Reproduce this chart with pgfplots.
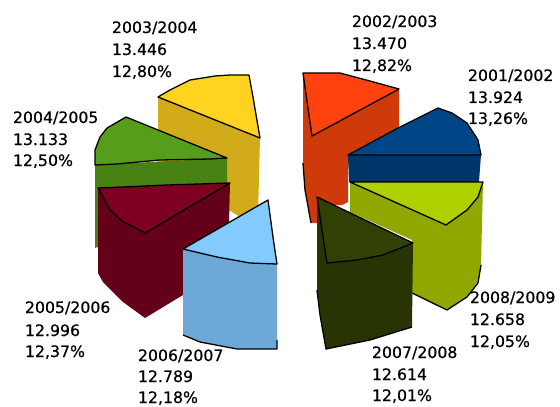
\documentclass[border=0pt]{standalone}
\usepackage{fontspec}
\setmainfont{DejaVu Sans}[FakeBold=0.5]
\usepackage{pgfplots}
\pgfplotsset{compat=1.18}
\definecolor{orT}{HTML}{FF420E}\definecolor{orS}{HTML}{CF3A0B}
\definecolor{yeT}{HTML}{FFD320}\definecolor{yeS}{HTML}{D2AB1A}
\definecolor{grT}{HTML}{579D1C}\definecolor{grS}{HTML}{488215}
\definecolor{blT}{HTML}{004586}\definecolor{blS}{HTML}{003569}
\definecolor{liT}{HTML}{AECF00}\definecolor{liS}{HTML}{90A700}
\definecolor{maT}{HTML}{7E0021}\definecolor{maS}{HTML}{65001A}
\definecolor{lbT}{HTML}{83CAFF}\definecolor{lbS}{HTML}{6EA8D7}
\definecolor{daT}{HTML}{314004}\definecolor{daS}{HTML}{283403}
\tikzset{lb/.style={anchor=base west,inner sep=0pt,outer sep=0pt,font=\fontsize{15.8}{18}\selectfont}}
\pgfplotsset{edge/.style={black,line width=1.3pt,line join=round},top/.style={draw=black,line width=1.3pt,line join=round}}
\begin{document}
\begin{tikzpicture}[x=1bp,y=1bp]
\path[use as bounding box] (0,0) rectangle (560bp,407bp);
\begin{axis}[at={(0,0)},anchor=south west,scale only axis,width=560bp,height=407bp,
  xmin=0,xmax=560,ymin=0,ymax=407,y dir=reverse,hide axis,no markers]
% orange
\addplot[fill=orS,draw=none] coordinates {(303,73)(399,89)(399,135)(348,165)(348,202)(342,205)(318,205)(318,223)(311,223)(305,190)(303,163)} --cycle;
\addplot[edge] coordinates {(303,163)(305,190)(311,223)};
\addplot[fill=orT,top] coordinates {(303,73)(340,73)(370,81)(399,89)(312,136)} --cycle;
% yellow
\addplot[fill=yeS,draw=none] coordinates {(158,97)(260,138)(258,217)(240,217)(229,210)(158,190)} --cycle;
\addplot[fill=yeT,top] coordinates {(158,97)(170,90)(190,80)(215,76)(230,75)(249,75)(253,97)(260,138)} --cycle;
% green
\addplot[fill=grS,draw=none] coordinates {(95,165)(227,158)(227,200)(95,248)} --cycle;
\addplot[fill=grT,top] coordinates {(95,165)(95,150)(100,137)(107,128)(126,117)(227,158)(210,159)(160,160)(117,164)} --cycle;
% blue
\addplot[fill=blS,draw=none] coordinates {(348,155)(481,155)(479,182)(349,182)} --cycle;
\addplot[fill=blT,top] coordinates {(348,155)(398,128)(438,108)(452,113)(467,123)(478,140)(481,155)} --cycle;
% lime
\addplot[fill=liS,draw=none] coordinates {(350,182)(483,182)(481,265)(478,283)(467,297)(447,310)(412,293)(412,240)(350,212)} --cycle;
\addplot[edge] coordinates {(481,265)(478,283)(467,297)(447,310)(412,293)};
\addplot[fill=liT,top] coordinates {(350,182)(483,182)(478,197)(467,210)(446,225)} --cycle;
% maroon
\addplot[fill=maS,draw=none] coordinates {(98,188)(230,183)(229,223)(183,295)(145,318)(123,302)(103,282)(98,273)} --cycle;
\addplot[fill=maT,top] coordinates {(98,188)(110,210)(122,221)(145,233)(230,183)(167,185)(122,187)} --cycle;
% light blue
\addplot[fill=lbS,draw=none] coordinates {(183,249)(277,264)(277,349)(237,349)(200,342)(183,335)} --cycle;
\addplot[edge] coordinates {(183,335)(200,342)(237,349)(277,349)(277,340)};
\addplot[fill=lbT,top] coordinates {(268,200)(273,237)(277,264)(250,263)(217,257)(183,249)} --cycle;
% dark
\addplot[fill=daS,draw=none] coordinates {(317,197)(413,243)(412,327)(370,340)(326,349)(320,315)(317,290)} --cycle;
\addplot[edge] coordinates {(317,290)(320,315)(326,349)(370,340)(412,327)};
\addplot[fill=daT,top] coordinates {(317,197)(413,243)(383,255)(357,260)(327,263)} --cycle;
% labels
\node[lb] at (axis cs:468,81) {2001/2002};\node[lb] at (axis cs:468,103) {13.924};\node[lb] at (axis cs:468,124) {13,26\%};
\node[lb] at (axis cs:352,27) {2002/2003};\node[lb] at (axis cs:352,49) {13.470};\node[lb] at (axis cs:352,71) {12,82\%};
\node[lb] at (axis cs:112,33) {2003/2004};\node[lb] at (axis cs:112,55) {13.446};\node[lb] at (axis cs:112,77) {12,80\%};
\node[lb] at (axis cs:13,123) {2004/2005};\node[lb] at (axis cs:13,145) {13.133};\node[lb] at (axis cs:13,166) {12,50\%};
\node[lb] at (axis cs:25,313) {2005/2006};\node[lb] at (axis cs:25,336) {12.996};\node[lb] at (axis cs:25,357) {12,37\%};
\node[lb] at (axis cs:138,361) {2006/2007};\node[lb] at (axis cs:138,382) {12.789};\node[lb] at (axis cs:138,403) {12,18\%};
\node[lb] at (axis cs:372,358) {2007/2008};\node[lb] at (axis cs:372,380) {12.614};\node[lb] at (axis cs:372,401) {12,01\%};
\node[lb] at (axis cs:470,303) {2008/2009};\node[lb] at (axis cs:470,325) {12.658};\node[lb] at (axis cs:470,347) {12,05\%};
\end{axis}
\end{tikzpicture}
\end{document}
